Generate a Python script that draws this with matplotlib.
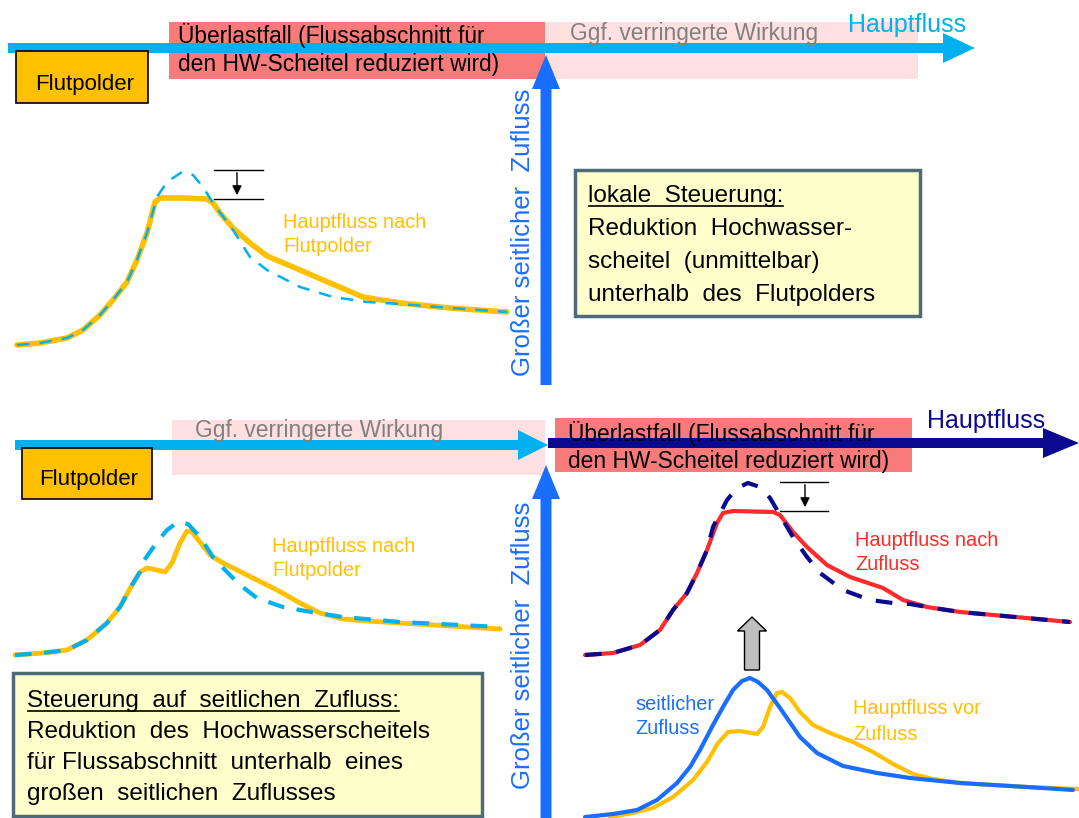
import matplotlib
matplotlib.use('Agg')
import matplotlib.pyplot as plt
from matplotlib.patches import Rectangle, FancyArrow

plt.rcParams['font.family'] = ['Liberation Sans', 'DejaVu Sans']

# hydrographs (x, y in picture pixels)
top_after_x = [17, 40, 67, 83, 100, 113, 127, 137, 147, 155, 160, 185, 207, 213, 220, 233, 250, 267, 300, 330, 363, 400, 450, 507]
top_after_y = [345, 343, 338, 330, 315, 300, 282, 260, 233, 202, 198, 198, 199, 203, 213, 228, 243, 256, 270, 283, 297, 303, 308, 312]
top_before_x = [17, 40, 67, 83, 100, 113, 127, 137, 147, 157, 167, 182, 193, 203, 213, 233, 250, 267, 300, 333, 367, 400, 450, 507]
top_before_y = [345, 343, 338, 330, 315, 300, 282, 260, 233, 197, 182, 172, 175, 187, 203, 230, 257, 270, 287, 297, 302, 304, 308, 312]

bl_after_x = [15, 43, 67, 87, 107, 120, 132, 140, 147, 157, 165, 172, 180, 187, 192, 200, 210, 223, 253, 277, 300, 320, 343, 367, 400, 450, 500]
bl_after_y = [655, 653, 650, 640, 623, 607, 585, 572, 568, 570, 572, 563, 543, 531, 532, 542, 555, 563, 578, 590, 603, 613, 619, 621, 623, 626, 629]
bl_before_x = [15, 43, 67, 87, 107, 120, 132, 140, 143, 157, 167, 178, 188, 200, 213, 227, 240, 257, 283, 317, 343, 400, 500]
bl_before_y = [655, 653, 650, 640, 623, 607, 585, 572, 562, 542, 530, 522, 524, 537, 557, 572, 585, 598, 607, 613, 617, 622, 627]

br_after_x = [585, 613, 640, 660, 673, 687, 697, 707, 717, 723, 733, 773, 780, 793, 807, 827, 850, 883, 903, 927, 960, 993, 1070]
br_after_y = [655, 653, 645, 630, 610, 593, 573, 550, 523, 513, 511, 512, 515, 532, 547, 565, 577, 588, 600, 607, 612, 615, 622]
br_before_x = [585, 613, 640, 660, 673, 687, 697, 707, 713, 727, 737, 748, 760, 770, 780, 793, 807, 820, 843, 870, 893, 910, 927, 960, 993, 1070]
br_before_y = [655, 653, 645, 630, 610, 593, 573, 550, 527, 500, 488, 483, 487, 498, 515, 537, 557, 573, 590, 600, 603, 604, 607, 612, 615, 622]

inflow_x = [585, 613, 637, 657, 677, 690, 700, 713, 723, 733, 742, 750, 758, 767, 780, 800, 817, 843, 877, 910, 960, 1027, 1073]
inflow_y = [817, 814, 810, 800, 783, 767, 750, 725, 707, 690, 681, 678, 682, 690, 708, 737, 753, 766, 773, 778, 783, 787, 790]
main_x = [610, 633, 653, 673, 693, 707, 718, 728, 740, 757, 763, 770, 777, 782, 790, 800, 813, 830, 853, 873, 893, 913, 933, 960, 1027, 1079]
main_y = [817, 813, 808, 797, 780, 762, 743, 732, 731, 734, 727, 707, 693, 692, 698, 712, 725, 733, 742, 752, 764, 774, 779, 783, 787, 789]

LBLUE = '#00B0F0'
BLUE = '#1A6EFF'
NAVY = '#0A0A8F'
ORANGE = '#FFC000'
RED = '#FF2A2A'
GRAY = '#808080'

fig = plt.figure(figsize=(10.79, 8.18), dpi=100)
ax = fig.add_axes([0, 0, 1, 1])
ax.set_xlim(0, 1079)
ax.set_ylim(818, 0)
ax.axis('off')

# ---- top half ----
ax.add_patch(Rectangle((169, 22), 376, 57, facecolor='#F87A7A', edgecolor='none', zorder=1))
ax.add_patch(Rectangle((545, 22), 373, 57, facecolor='#FFE0E0', edgecolor='none', zorder=1))
ax.add_patch(FancyArrow(8, 48, 967, 0, width=10, head_width=30, head_length=32,
                        length_includes_head=True, color=LBLUE, lw=0, zorder=2))
ax.text(178, 43, 'Überlastfall (Flussabschnitt für', fontsize=16.4, va='baseline', zorder=3)
ax.text(178, 71, 'den HW-Scheitel reduziert wird)', fontsize=16.4, va='baseline', zorder=3)
ax.text(570, 40, 'Ggf. verringerte Wirkung', fontsize=16.4, color=GRAY, va='baseline', zorder=3)
ax.text(848, 32, 'Hauptfluss', fontsize=18, color=LBLUE, va='baseline', zorder=3)

ax.add_patch(Rectangle((16, 51), 132, 52, facecolor=ORANGE, edgecolor='black', lw=1.2, zorder=3))
ax.text(35, 90, 'Flutpolder', fontsize=16, va='baseline', zorder=4)

ax.add_patch(FancyArrow(546, 385, 0, -330, width=11, head_width=28, head_length=34,
                        length_includes_head=True, color=BLUE, lw=0, zorder=2))
ax.text(523, 232, 'Großer seitlicher  Zufluss', fontsize=18.5, color=BLUE, rotation=90,
        ha='center', va='center')

ax.add_patch(Rectangle((575, 170), 345, 146, facecolor='#FFFFCC', edgecolor='#4E6B7C', lw=2.5, zorder=3))
t1 = ax.text(588, 202, 'lokale  Steuerung:', fontsize=17.5, va='baseline', zorder=4)
ax.text(588, 235, 'Reduktion  Hochwasser-', fontsize=17.5, va='baseline', zorder=4)
ax.text(588, 268, 'scheitel  (unmittelbar)', fontsize=17.5, va='baseline', zorder=4)
ax.text(588, 301, 'unterhalb  des  Flutpolders', fontsize=17.5, va='baseline', zorder=4)

ax.plot(top_after_x, top_after_y, color=ORANGE, lw=4, solid_joinstyle='round', solid_capstyle='round')
ax.plot(top_before_x, top_before_y, color=LBLUE, lw=1.8, ls=(0, (5, 4)))
ax.plot([214, 263], [170, 170], color='black', lw=1)
ax.plot([214, 263], [199, 199], color='black', lw=1)
ax.annotate('', xy=(237, 198), xytext=(237, 170),
            arrowprops=dict(arrowstyle='-|>', color='black', lw=1, mutation_scale=14))
ax.text(283, 222, 'Hauptfluss nach', fontsize=14.4, color=ORANGE, va='center')
ax.text(283, 247, 'Flutpolder', fontsize=14.4, color=ORANGE, va='center')

# ---- bottom half ----
ax.add_patch(Rectangle((172, 420), 373, 55, facecolor='#FFE0E0', edgecolor='none', zorder=1))
ax.add_patch(Rectangle((555, 418), 357, 54, facecolor='#F87A7A', edgecolor='none', zorder=1))
ax.add_patch(FancyArrow(15, 445, 533, 0, width=10, head_width=30, head_length=30,
                        length_includes_head=True, color=LBLUE, lw=0, zorder=2))
ax.add_patch(FancyArrow(548, 443, 531, 0, width=10, head_width=30, head_length=36,
                        length_includes_head=True, color=NAVY, lw=0, zorder=2))
ax.text(195, 437, 'Ggf. verringerte Wirkung', fontsize=16.4, color=GRAY, va='baseline', zorder=3)
ax.text(568, 441, 'Überlastfall (Flussabschnitt für', fontsize=16.4, va='baseline', zorder=3)
ax.text(568, 468, 'den HW-Scheitel reduziert wird)', fontsize=16.4, va='baseline', zorder=3)
ax.text(927, 428, 'Hauptfluss', fontsize=18, color=NAVY, va='baseline', zorder=3)

ax.add_patch(Rectangle((22, 448), 130, 51, facecolor=ORANGE, edgecolor='black', lw=1.2, zorder=3))
ax.text(39, 485, 'Flutpolder', fontsize=16, va='baseline', zorder=4)

ax.add_patch(FancyArrow(546, 818, 0, -353, width=11, head_width=28, head_length=34,
                        length_includes_head=True, color=BLUE, lw=0, zorder=2))
ax.text(523, 645, 'Großer seitlicher  Zufluss', fontsize=18.5, color=BLUE, rotation=90,
        ha='center', va='center')

ax.plot(bl_after_x, bl_after_y, color=ORANGE, lw=3.5, solid_joinstyle='round', solid_capstyle='round')
ax.plot(bl_before_x, bl_before_y, color=LBLUE, lw=3, ls=(0, (4, 3)))
ax.text(272, 546, 'Hauptfluss nach', fontsize=14.4, color=ORANGE, va='center')
ax.text(272, 571, 'Flutpolder', fontsize=14.4, color=ORANGE, va='center')

ax.add_patch(Rectangle((13, 673), 469, 143, facecolor='#FFFFCC', edgecolor='#4E6B7C', lw=2.5, zorder=3))
t2 = ax.text(27, 707, 'Steuerung  auf  seitlichen  Zufluss:', fontsize=17.5, va='baseline', zorder=4)
ax.text(27, 738, 'Reduktion  des  Hochwasserscheitels', fontsize=17.5, va='baseline', zorder=4)
ax.text(27, 769, 'für Flussabschnitt  unterhalb  eines', fontsize=17.5, va='baseline', zorder=4)
ax.text(27, 800, 'großen  seitlichen  Zuflusses', fontsize=17.5, va='baseline', zorder=4)

ax.plot(br_after_x, br_after_y, color=RED, lw=3, solid_joinstyle='round', solid_capstyle='round')
ax.plot(br_before_x, br_before_y, color=NAVY, lw=3, ls=(0, (4, 3.5)))
ax.plot([780, 828], [482, 482], color='black', lw=1)
ax.plot([780, 828], [511, 511], color='black', lw=1)
ax.annotate('', xy=(805, 510), xytext=(805, 482),
            arrowprops=dict(arrowstyle='-|>', color='black', lw=1, mutation_scale=14))
ax.text(855, 540, 'Hauptfluss nach', fontsize=14.4, color=RED, va='center')
ax.text(855, 565, 'Zufluss', fontsize=14.4, color=RED, va='center')

ax.add_patch(FancyArrow(752, 670, 0, -53, width=15, head_width=29, head_length=14,
                        length_includes_head=True, facecolor='#BFBFBF', edgecolor='black', lw=1))

ax.plot(main_x, main_y, color=ORANGE, lw=3, solid_joinstyle='round', solid_capstyle='round')
ax.plot(inflow_x, inflow_y, color=BLUE, lw=3, solid_joinstyle='round', solid_capstyle='round')
ax.text(635, 704, 'seitlicher', fontsize=14.4, color=BLUE, va='center')
ax.text(635, 728, 'Zufluss', fontsize=14.4, color=BLUE, va='center')
ax.text(853, 709, 'Hauptfluss vor', fontsize=14.4, color=ORANGE, va='center')
ax.text(853, 734, 'Zufluss', fontsize=14.4, color=ORANGE, va='center')

# underline headings
fig.canvas.draw()
inv = ax.transData.inverted()
for t in (t1, t2):
    bb = t.get_window_extent()
    (x0, _), (x1, _) = inv.transform([[bb.x0, bb.y0], [bb.x1, bb.y1]])
    yb = t.get_position()[1] + 4
    ax.plot([x0 + 1, x1], [yb, yb], color='black', lw=1.2, zorder=5)

fig.savefig('out.png', dpi=100)
